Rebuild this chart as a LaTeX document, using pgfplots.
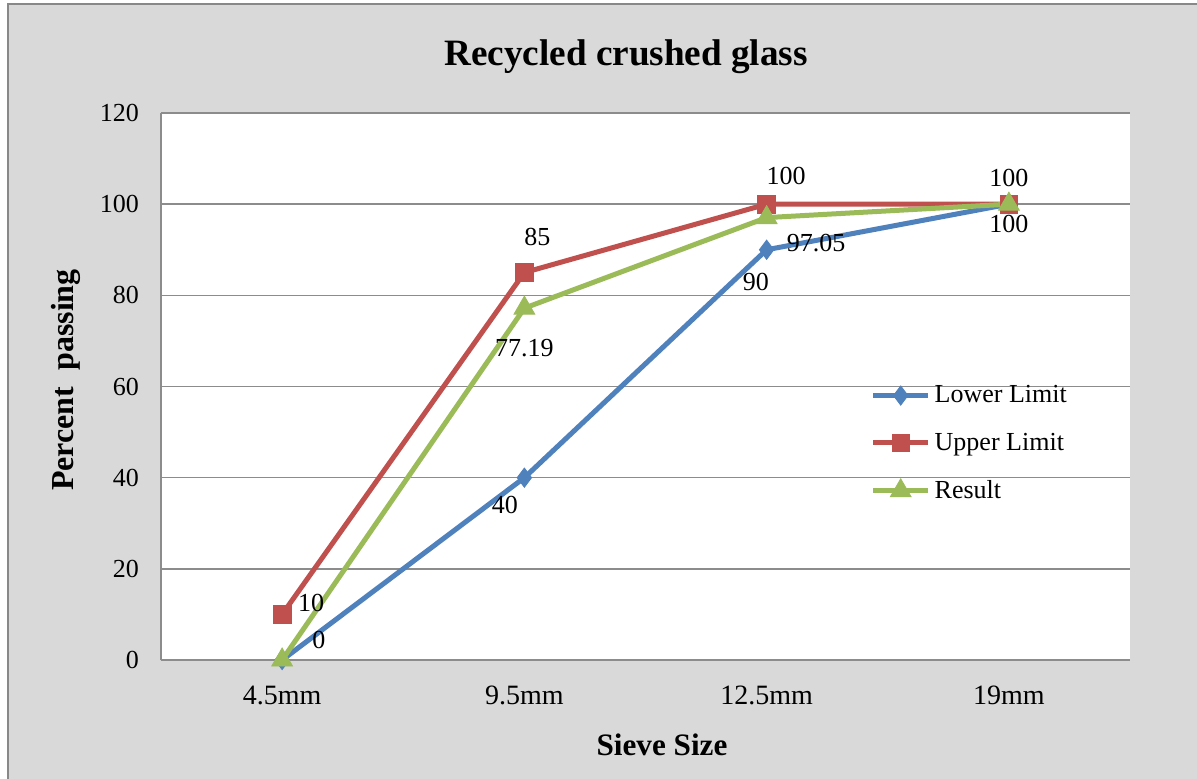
\documentclass[border=0pt]{standalone}
\usepackage{pgfplots}
\pgfplotsset{compat=1.18}
\usepackage{fontspec}
\setmainfont{Liberation Serif}

\definecolor{lowblue}{HTML}{4F81BD}
\definecolor{upred}{HTML}{C0504D}
\definecolor{resgreen}{HTML}{9BBB59}
\definecolor{chartbg}{HTML}{D9D9D9}
\definecolor{gridgray}{HTML}{8C8C8C}
\definecolor{framegray}{HTML}{888888}

\newcommand{\lbl}{\fontsize{13}{15}\selectfont}

\begin{document}
\begin{tikzpicture}
% page and chart area
\useasboundingbox (0,0) rectangle (598.5pt,-389.5pt);
\clip (0,0) rectangle (598.5pt,-389.5pt);
\fill[white] (0,0) rectangle (598.5pt,-389.5pt);
\filldraw[fill=chartbg, draw=framegray, line width=0.8pt] (4pt,-2pt) rectangle (610pt,-400pt);

\begin{axis}[
  at={(80.5pt,-330pt)}, anchor=south west,
  scale only axis, width=484.5pt, height=273.5pt,
  xmin=-0.5, xmax=3.5, ymin=0, ymax=120,
  xtick={0,1,2,3}, xticklabels={4.5mm,9.5mm,12.5mm,19mm},
  ytick={0,20,...,120},
  /pgf/number format/assume math mode=true,
  ymajorgrids, grid style={gridgray, line width=0.8pt},
  axis x line=bottom, axis y line=left,
  axis line style={-, gridgray, line width=0.8pt},
  major tick length=0pt,
  axis background/.style={fill=white},
  clip=false,
  yticklabel style={font=\fontsize{13}{15}\selectfont, xshift=-7.5pt},
  xticklabel style={font=\fontsize{14}{16}\selectfont, yshift=-9.5pt},
  legend style={at={(0.732,0.51)}, anchor=north west, draw=none, fill=none,
    font=\fontsize{13}{15}\selectfont, row sep=9.6pt, inner sep=0pt,
    cells={anchor=west}},
  legend image code/.code={%
    \draw[mark repeat=2,mark phase=2] plot coordinates {(0pt,0pt)(13.75pt,0pt)(27.5pt,0pt)};},
]
\addplot[lowblue, line width=2.5pt, mark=diamond*, mark size=4.8pt,
  mark options={solid, fill=lowblue, line width=0.4pt}]
  coordinates {(0,0) (1,40) (2,90) (3,100)};
\addlegendentry{Lower Limit}
\addplot[upred, line width=2.5pt, mark=square*, mark size=4.4pt,
  mark options={solid, fill=upred, line width=0.4pt}]
  coordinates {(0,10) (1,85) (2,100) (3,100)};
\addlegendentry{Upper Limit}
\addplot[resgreen, line width=2.5pt, mark=triangle*, mark size=6pt,
  mark options={solid, fill=resgreen, line width=0.4pt}]
  coordinates {(0,0) (1,77.19) (2,97.05) (3,100)};
\addlegendentry{Result}

% data labels
\node[font=\lbl] at (axis cs:0.12,12.5) {10};
\node[font=\lbl] at (axis cs:0.152,4.4) {0};
\node[font=\lbl] at (axis cs:1.054,92.8) {85};
\node[font=\lbl] at (axis cs:1.0,68.4) {77.19};
\node[font=\lbl] at (axis cs:0.92,33.9) {40};
\node[font=\lbl] at (axis cs:2.08,106.2) {100};
\node[font=\lbl] at (axis cs:2.204,91.5) {97.05};
\node[font=\lbl] at (axis cs:1.956,82.9) {90};
\node[font=\lbl] at (axis cs:3.0,105.8) {100};
\node[font=\lbl] at (axis cs:3.0,95.7) {100};
\end{axis}

% titles
\node[font=\fontsize{18.6}{22}\selectfont\bfseries] at (313pt,-28.5pt) {Recycled crushed glass};
\node[font=\fontsize{15.6}{18}\selectfont\bfseries] at (331pt,-372.5pt) {Sieve Size};
\node[font=\fontsize{16}{19}\selectfont\bfseries, rotate=90] at (33pt,-190pt) {Percent\ \ passing};
\end{tikzpicture}
\end{document}
